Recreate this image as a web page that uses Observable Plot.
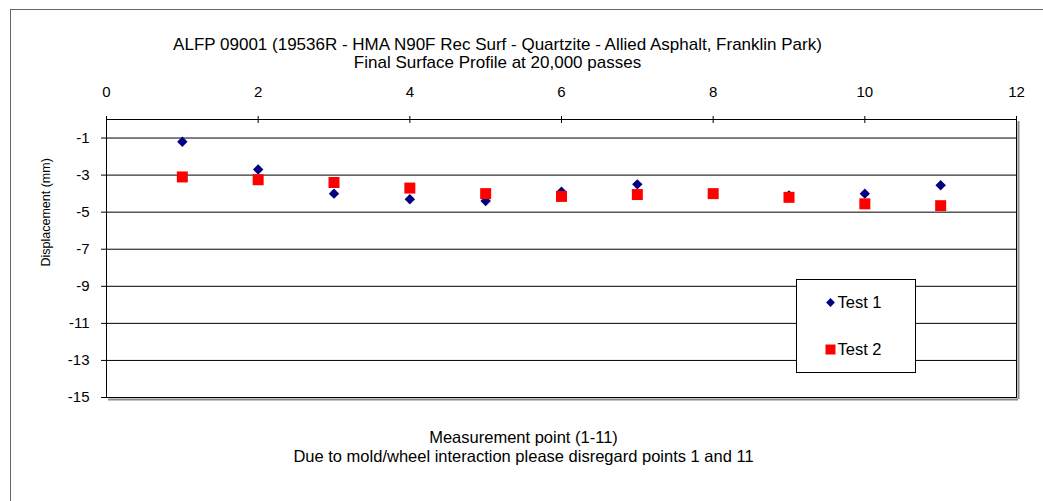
<!DOCTYPE html>
<html>
<head>
<meta charset="utf-8">
<script src="https://cdn.jsdelivr.net/npm/d3@7"></script>
<script src="https://cdn.jsdelivr.net/npm/@observablehq/plot@0.6"></script>
<style>
  html, body { margin: 0; padding: 0; background: #fff; }
  #wrap { position: relative; width: 1043px; height: 501px; overflow: hidden; }
  #border { position: absolute; left: 10px; top: 9px; width: 1100px; height: 600px;
            border-left: 1px solid #666; border-top: 1px solid #666; pointer-events: none; }
</style>
</head>
<body>
<div id="wrap"><div id="border"></div></div>
<script>
// ---- data ----
const points = [1, 2, 3, 4, 5, 6, 7, 8, 9, 10, 11];
const test1 = [-1.2, -2.7, -4.0, -4.3, -4.4, -3.9, -3.5, -4.0, -4.1, -4.0, -3.55];
const test2 = [-3.1, -3.25, -3.4, -3.7, -4.0, -4.15, -4.05, -4.0, -4.2, -4.55, -4.65];
const xTicks = [0, 2, 4, 6, 8, 10, 12];
const yTicks = [-1, -3, -5, -7, -9, -11, -13, -15];
const xDomain = [0, 12];
const yDomain = [-15, 0];
const seriesNames = ["Test 1", "Test 2"];
const titleLines = ["ALFP 09001 (19536R - HMA N90F Rec Surf - Quartzite - Allied Asphalt, Franklin Park)",
                    "Final Surface Profile at 20,000 passes"];
const xTitleLines = ["Measurement point (1-11)",
                     "Due to mold/wheel interaction please disregard points 1 and 11"];
const yTitle = "Displacement (mm)";

const rows1 = points.map((p, i) => ({x: p, y: test1[i]}));
const rows2 = points.map((p, i) => ({x: p, y: test2[i]}));

const diamondSym = {draw(ctx, size) { const r = Math.sqrt(size / Math.PI);
  ctx.moveTo(0, -r); ctx.lineTo(r, 0); ctx.lineTo(0, r); ctx.lineTo(-r, 0); ctx.closePath(); }};
const squareSym = {draw(ctx, size) { const r = Math.sqrt(size / Math.PI);
  ctx.rect(-r, -r, 2 * r, 2 * r); }};

const NAVY = "#000080", RED = "#ff0000";
const FS = 15;   // tick labels
const TS = 17;   // titles

const chart = Plot.plot({
  width: 1043, height: 501,
  marginLeft: 106, marginRight: 27, marginTop: 119, marginBottom: 104,
  style: {fontFamily: "'Liberation Sans', Arial, sans-serif", fontSize: FS + "px", background: "transparent"},
  x: {domain: xDomain},
  y: {domain: yDomain},
  marks: [
    Plot.ruleY(yTicks.filter(d => d > yDomain[0]), {stroke: "black"}),
    // shadow
    Plot.ruleX([xDomain[1]], {dx: 2, dy: 2, stroke: "#8c8c8c", strokeWidth: 2}),
    Plot.ruleY([yDomain[0]], {dx: 2, dy: 2, stroke: "#8c8c8c", strokeWidth: 2}),
    Plot.frame({stroke: "black", strokeWidth: 1}),
    Plot.axisX({anchor: "top", ticks: xTicks, tickSize: 4, tickPadding: 19, label: null,
                tickFormat: d => String(d), fontSize: FS, stroke: "black"}),
    Plot.tickX(xTicks, {x: d => d, insetBottom: 274, stroke: "black"}),
    Plot.axisY({ticks: yTicks, tickSize: 5, tickPadding: 12, label: null,
                tickFormat: d => String(d), fontSize: FS, stroke: "black"}),
    Plot.dot(rows1, {x: "x", y: "y", symbol: diamondSym, r: 5.2, fill: NAVY, stroke: null}),
    Plot.dot(rows2, {x: "x", y: "y", symbol: squareSym, r: 5.5, fill: RED, stroke: null}),
    // legend
    Plot.frame({fill: "white", stroke: "black", insetLeft: 690, insetRight: 101, insetTop: 160, insetBottom: 25}),
    Plot.dot([seriesNames[0]], {frameAnchor: "top-left", dx: 724, dy: 183, symbol: diamondSym, r: 4.4, fill: NAVY, stroke: null}),
    Plot.dot([seriesNames[1]], {frameAnchor: "top-left", dx: 724, dy: 230, symbol: squareSym, r: 5, fill: RED, stroke: null}),
    Plot.text([seriesNames[0]], {frameAnchor: "top-left", dx: 731, dy: 183, textAnchor: "start", lineAnchor: "middle", fontSize: 16.5, fill: "black"}),
    Plot.text([seriesNames[1]], {frameAnchor: "top-left", dx: 731, dy: 230, textAnchor: "start", lineAnchor: "middle", fontSize: 16.5, fill: "black"}),
    // titles
    Plot.text([titleLines[0]], {frameAnchor: "top", dx: -64, dy: -70, lineAnchor: "bottom", fontSize: TS, fill: "black"}),
    Plot.text([titleLines[1]], {frameAnchor: "top", dx: -64, dy: -52, lineAnchor: "bottom", fontSize: TS, fill: "black"}),
    Plot.text([xTitleLines[0]], {frameAnchor: "bottom", dx: -38, dy: 45, lineAnchor: "bottom", fontSize: 16.5, fill: "black"}),
    Plot.text([xTitleLines[1]], {frameAnchor: "bottom", dx: -38, dy: 64, lineAnchor: "bottom", fontSize: 16.5, fill: "black"}),
    Plot.text([yTitle], {frameAnchor: "left", dx: -61, dy: 8, rotate: -90, lineAnchor: "middle", fontSize: 12.5, fill: "black"})
  ]
});
chart.style.position = "absolute";
chart.style.left = "0px";
chart.style.top = "0px";
document.getElementById("wrap").appendChild(chart);
</script>
</body>
</html>
